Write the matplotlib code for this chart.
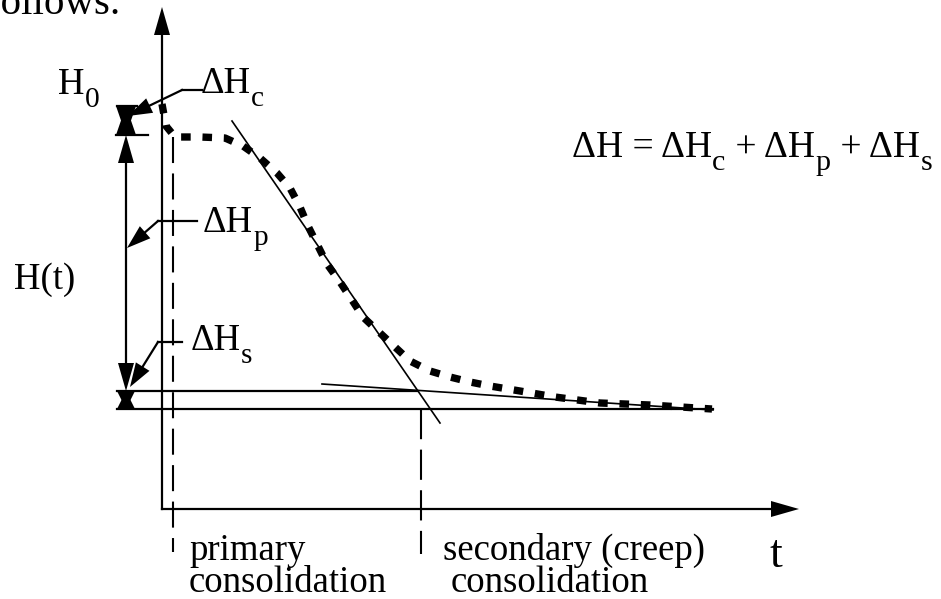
"""
Consolidation settlement sketch: H(t) versus t with the three parts of dH.
"""

import numpy as np
import matplotlib
matplotlib.use("Agg")
import matplotlib.pyplot as plt

plt.rcParams["font.family"] = ["Liberation Serif", "DejaVu Serif"]

# everything is in picture pixels, y grows downward
# settlement curve (the thick dotted one)
curve_x = [162, 166, 175, 200, 225, 243, 260, 277, 290, 300, 308, 318, 327, 340,
           352, 363, 380, 395, 410, 430, 450, 470, 490, 520, 555, 600, 650, 712]
curve_y = [104, 126, 137, 137, 138, 146, 158, 173, 188, 207, 226, 246, 264, 282,
           300, 317, 333, 347, 361, 371, 377, 382, 386, 391, 397, 403, 405, 409]

# height levels: H0, after dHc, after dHp, final
y_h0 = 106
y_hc = 135
y_hs = 391
y_end = 409

# tangent lines
tan_primary_x = [232, 440]
tan_primary_y = [121, 423]
tan_secondary_x = [322, 713]
tan_secondary_y = [384, 410]

# time markers (dashed)
x_start = 173
x_end_primary = 421

# axes
x_axis0, y_axis0 = 162, 509
x_axis_tip, y_axis_tip = 799, 7

lw = 1.6
fs = 26.5
fig = plt.figure(figsize=(9.41, 5.99), dpi=100)
ax = fig.add_axes([0, 0, 1, 1])
ax.set_xlim(0, 941)
ax.set_ylim(599, 0)
ax.axis("off")
renderer = fig.canvas.get_renderer()


def head(tip, frm, length=26, half=8):
    """filled arrow head at tip, pointing away from frm"""
    tip = np.array(tip, float)
    d = tip - np.array(frm, float)
    d /= np.hypot(*d)
    n = np.array([-d[1], d[0]])
    base = tip - d * length
    pts = np.array([tip, base + n * half, base - n * half])
    ax.fill(pts[:, 0], pts[:, 1], color="black", lw=0)
    return base


def leader(x0, y0, tip, length=24, half=8):
    base = head(tip, (x0, y0), length, half)
    ax.plot([x0, base[0]], [y0, base[1]], color="black", lw=lw)


def hourglass(xc, ytop, ybot, half):
    ax.fill([xc - half, xc + half, xc], [ytop, ytop, ybot], color="black", lw=0)
    ax.fill([xc - half, xc + half, xc], [ybot, ybot, ytop], color="black", lw=0)


def sub_label(x, y, parts, size=fs, drop=13):
    """parts alternate normal text / subscript"""
    for i, p in enumerate(parts):
        sub = i % 2 == 1
        t = ax.text(x, y + (drop if sub else 0), p,
                    fontsize=size * (0.8 if sub else 1),
                    va="baseline", ha="left")
        bb = t.get_window_extent(renderer)
        x = ax.transData.inverted().transform((bb.x1, bb.y0))[0] + (1 if sub else 0)


# axes with arrows
ax.plot([x_axis0, x_axis0], [y_axis0, y_axis_tip + 25], color="black", lw=lw)
head((x_axis0, y_axis_tip), (x_axis0, y_axis0), 28, 8)
ax.plot([x_axis0, x_axis_tip - 25], [y_axis0, y_axis0], color="black", lw=lw)
head((x_axis_tip, y_axis0), (x_axis0, y_axis0), 28, 8)

# dashed time markers
ax.plot([x_start, x_start], [y_hc + 2, 552], color="black", lw=1.5,
        dashes=(12.5, 5))
ax.plot([x_end_primary, x_end_primary], [y_end, 554], color="black", lw=1.5,
        dashes=(14.5, 5))

# level lines
ax.plot([117, 137], [y_h0, y_h0], color="black", lw=lw)
ax.plot([116, 148], [y_hc, y_hc], color="black", lw=lw)
ax.plot([117, 418], [y_hs, y_hs], color="black", lw=lw)
ax.plot([117, 713], [y_end, y_end], color="black", lw=lw)

# tangents
ax.plot(tan_primary_x, tan_primary_y, color="black", lw=1.2)
ax.plot(tan_secondary_x, tan_secondary_y, color="black", lw=1.2)

# settlement curve
ax.plot(curve_x, curve_y, color="black", lw=5.3, dashes=(1.3, 1.6),
        dash_capstyle="butt", solid_joinstyle="round")

# H(t) dimension
xd = 126
ax.plot([xd, xd], [y_hc + 20, y_hs - 20], color="black", lw=lw)
head((xd, y_hc), (xd, y_hs), 28, 8)
head((xd, y_hs), (xd, y_hc), 28, 8)
hourglass(xd, y_h0, y_hc, 10)
hourglass(xd, y_hs, y_end, 9)

# leaders
ax.plot([182, 202], [90, 90], color="black", lw=lw)
leader(182, 90, (128, 116))
ax.plot([158, 197], [221, 221], color="black", lw=lw)
leader(158, 221, (127, 248))
ax.plot([158, 182], [342, 342], color="black", lw=lw)
leader(158, 342, (130, 387))

ax.text(121, 14, "follows.", fontsize=29.5, va="baseline", ha="right")
sub_label(58, 94, ["H", "0"])
sub_label(201, 93, ["ΔH", "c"])
sub_label(203, 232, ["ΔH", "p"])
sub_label(191, 350, ["ΔH", "s"])
ax.text(75, 289, "H(t)", fontsize=fs, va="baseline", ha="right")
sub_label(572, 157, ["ΔH = ΔH", "c", " + ΔH", "p", " + ΔH", "s"], size=27)
ax.text(189, 560, "primary", fontsize=fs, va="baseline")
ax.text(189, 592, "consolidation", fontsize=fs, va="baseline")
ax.text(443, 560, "secondary (creep)", fontsize=fs, va="baseline")
ax.text(451, 592, "consolidation", fontsize=fs, va="baseline")
ax.text(770, 567, "t", fontsize=33, va="baseline")

fig.savefig("out.png", dpi=100)
